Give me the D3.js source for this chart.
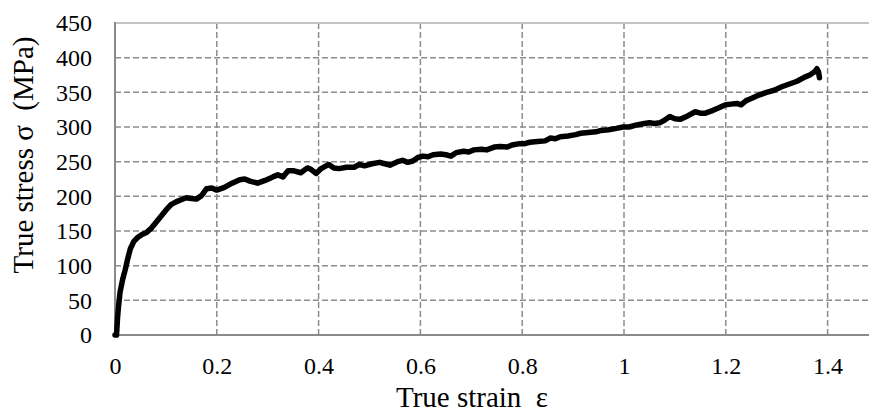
<!DOCTYPE html>
<html>
<head>
<meta charset="utf-8">
<script src="https://cdn.jsdelivr.net/npm/d3@7"></script>
<style>
  html, body { margin: 0; padding: 0; background: #fff; }
  svg { display: block; }
  text { font-family: "Liberation Serif", "Times New Roman", serif; fill: #000; }
</style>
</head>
<body>
<svg id="chart" width="869" height="414"></svg>
<script>
// True stress–strain curve (tensile test)
const strain = [
  0, 0.003, 0.005, 0.007, 0.010, 0.015, 0.020, 0.025, 0.030, 0.037,
  0.045, 0.053, 0.062, 0.070, 0.080, 0.090, 0.100, 0.110, 0.120, 0.130,
  0.140, 0.150, 0.160, 0.170, 0.180, 0.190, 0.200, 0.215, 0.230, 0.245,
  0.255, 0.265, 0.280, 0.295, 0.310, 0.320, 0.330, 0.340, 0.350, 0.365,
  0.378, 0.385, 0.395, 0.405, 0.420, 0.430, 0.440, 0.455, 0.470, 0.480,
  0.490, 0.505, 0.520, 0.530, 0.540, 0.555, 0.565, 0.575, 0.585, 0.595,
  0.605, 0.615, 0.625, 0.640, 0.650, 0.660, 0.670, 0.685, 0.695, 0.705,
  0.720, 0.730, 0.745, 0.757, 0.770, 0.780, 0.795, 0.805, 0.815, 0.830,
  0.845, 0.855, 0.865, 0.875, 0.890, 0.905, 0.915, 0.930, 0.945, 0.955,
  0.970, 0.985, 0.998, 1.010, 1.025, 1.040, 1.050, 1.060, 1.070, 1.080,
  1.090, 1.100, 1.110, 1.125, 1.140, 1.150, 1.160, 1.175, 1.190, 1.200,
  1.210, 1.222, 1.230, 1.240, 1.250, 1.265, 1.280, 1.295, 1.310, 1.325,
  1.340, 1.355, 1.365, 1.375, 1.379, 1.382, 1.384
];
const stress = [
  0, 0, 25, 42, 62, 80, 94, 110, 124, 135,
  141, 145, 148, 153, 162, 171, 180, 188, 192, 195,
  198, 197, 196, 201, 211, 212, 209, 213, 219, 224,
  225, 222, 219, 223, 228, 231, 228, 237, 237, 234,
  241, 239, 233, 240, 246, 241, 240, 242, 242, 246,
  244, 247, 249, 247, 245, 250, 252, 249, 251, 256,
  258, 257, 260, 261, 260, 258, 263, 265, 264, 267,
  268, 267, 271, 272, 271, 274, 276, 276, 278, 279,
  280, 284, 283, 286, 287, 289, 291, 292, 293, 295,
  296, 298, 300, 300, 303, 305, 306, 305, 306, 310,
  315, 312, 311, 316, 322, 320, 320, 324, 329, 332,
  333, 334, 332, 338, 341, 346, 350, 353, 358, 362,
  366, 372, 375, 380, 384, 380, 371
];
const xTicks = [0, 0.2, 0.4, 0.6, 0.8, 1, 1.2, 1.4];
const yTicks = [0, 50, 100, 150, 200, 250, 300, 350, 400, 450];
const xTitle = "True strain  ε";
const yTitle = "True stress σ  (MPa)";

const svg = d3.select("#chart");
const plotL = 115, plotT = 23, plotB = 335, plotR = 878.5;

const x = d3.scaleLinear().domain([0, 1.5]).range([plotL, plotR]);
const y = d3.scaleLinear().domain([0, 450]).range([plotB, plotT]);

// dashed grid
const grid = svg.append("g");
grid.selectAll("line.h")
  .data(yTicks.filter(d => d > 0 && d < 450))
  .join("line")
  .attr("class", "h")
  .attr("x1", plotL).attr("x2", 869)
  .attr("y1", d => y(d)).attr("y2", d => y(d))
  .attr("stroke", "#8c8c8c").attr("stroke-width", 1.5)
  .attr("stroke-dasharray", "6,3");
grid.selectAll("line.v")
  .data(xTicks.filter(d => d > 0))
  .join("line")
  .attr("class", "v")
  .attr("x1", d => x(d)).attr("x2", d => x(d))
  .attr("y1", plotT).attr("y2", plotB)
  .attr("stroke", "#8c8c8c").attr("stroke-width", 1.5)
  .attr("stroke-dasharray", "6,3");

// frame: light top border, darker axes
svg.append("line")
  .attr("x1", plotL).attr("x2", 869).attr("y1", plotT).attr("y2", plotT)
  .attr("stroke", "#c4c4c4").attr("stroke-width", 2);

// axes via d3 (labels only, no tick marks)
const xAxis = svg.append("g")
  .attr("transform", `translate(0,${plotB})`)
  .call(d3.axisBottom(x).tickValues(xTicks).tickSize(0).tickPadding(0)
    .tickFormat(d => d3.format("~g")(d)));
xAxis.select(".domain").remove();
xAxis.selectAll("text")
  .attr("y", 38.5).attr("dy", null)
  .attr("fill", "#000")
  .style("font-size", "24px")
  .style("font-family", "'Liberation Serif', 'Times New Roman', serif");

const yAxis = svg.append("g")
  .attr("transform", `translate(${plotL},0)`)
  .call(d3.axisLeft(y).tickValues(yTicks).tickSize(0).tickPadding(0));
yAxis.select(".domain").remove();
yAxis.selectAll("text")
  .attr("x", -23).attr("dy", "0.33em")
  .attr("fill", "#000")
  .style("font-size", "24px")
  .style("font-family", "'Liberation Serif', 'Times New Roman', serif");

svg.append("line")
  .attr("x1", plotL).attr("x2", plotL).attr("y1", plotT - 1).attr("y2", plotB + 1)
  .attr("stroke", "#8a8a8a").attr("stroke-width", 2);
svg.append("line")
  .attr("x1", plotL - 1).attr("x2", 869).attr("y1", plotB).attr("y2", plotB)
  .attr("stroke", "#8a8a8a").attr("stroke-width", 2);

// the curve
const pts = strain.map((e, i) => [e, stress[i]]);
svg.append("path")
  .datum(pts)
  .attr("fill", "none")
  .attr("stroke", "#000")
  .attr("stroke-width", 5.5)
  .attr("stroke-linejoin", "round")
  .attr("stroke-linecap", "round")
  .attr("d", d3.line().x(d => x(d[0])).y(d => y(d[1])));

// axis titles
svg.append("text")
  .attr("x", 472).attr("y", 406.5)
  .attr("text-anchor", "middle")
  .style("font-size", "29px")
  .style("white-space", "pre")
  .text(xTitle);

svg.append("text")
  .attr("transform", `translate(33,155) rotate(-90)`)
  .attr("text-anchor", "middle")
  .style("font-size", "29px")
  .style("white-space", "pre")
  .text(yTitle);
</script>
</body>
</html>
